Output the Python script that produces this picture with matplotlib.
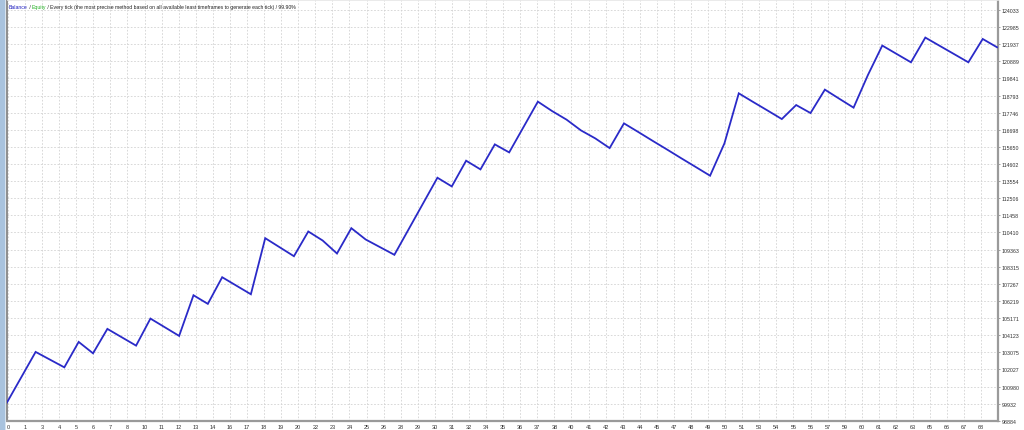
import matplotlib
matplotlib.use("Agg")
import matplotlib.pyplot as plt
from matplotlib.patches import Rectangle
import numpy as np

# ---- data ----
trades = list(range(70))
balance = [100000, 101550, 103100, 102628, 102156, 103713, 103014, 104510, 103998, 103486,
           105141, 104611, 104081, 106569, 106042, 107672, 107151, 106630, 110062, 109510,
           108959, 110472, 109921, 109124, 110675, 109982, 109513, 109044, 110617, 112190,
           113763, 113230, 114805, 114272, 115804, 115313, 116866, 118420, 117838, 117317,
           116661, 116171, 115577, 117090, 116560, 116020, 115490, 114950, 114420, 113886,
           115865, 118929, 118400, 117880, 117354, 118212, 117722, 119155, 118600, 118052,
           120050, 121852, 121340, 120828, 122342, 121837, 121333, 120828, 122256, 121748]

y_ticks = [98884, 99932, 100980, 102027, 103075, 104123, 105171, 106219, 107267, 108315,
           109363, 110410, 111458, 112506, 113554, 114602, 115650, 116698, 117746, 118793,
           119841, 120889, 121937, 122985, 124033]

x_labels = ["0", "1", "3", "4", "5", "6", "7", "8", "10", "11", "12", "13", "14", "16", "17",
            "18", "19", "20", "22", "23", "24", "25", "26", "28", "29", "30", "31", "32", "34",
            "35", "36", "37", "38", "40", "41", "42", "43", "44", "45", "47", "48", "49", "50",
            "51", "53", "54", "55", "56", "57", "59", "60", "61", "62", "63", "65", "66", "67", "68"]

title_parts = [("Balance", "#2020c0"), (" / ", "#202020"), ("Equity", "#20b020"),
               (" / Every tick (the most precise method based on all available least timeframes to generate each tick) / 99.90%", "#202020")]

FONT = "Liberation Sans"

# ---- figure ----
W, H = 1024, 431
fig = plt.figure(figsize=(W / 100, H / 100), dpi=100)
fig.patch.set_facecolor("white")

left_px, right_px, top_px, bottom_px = 6.5, 997.5, 0.5, 421.8
ax = fig.add_axes([left_px / W, (H - bottom_px) / H, (right_px - left_px) / W, (bottom_px - top_px) / H])
ax.set_facecolor("white")

ax.plot(trades, balance, color="#2a2ac8", linewidth=1.3, solid_joinstyle="miter", zorder=3)

ax.set_xlim(-0.03, 69.03)
ax.set_ylim(98884, 124672)

xt = np.linspace(0.07, 67.9, len(x_labels))
ax.set_xticks(xt)
ax.set_xticklabels(x_labels, fontfamily=FONT)
ax.set_yticks(y_ticks)
ax.set_yticklabels([str(v) for v in y_ticks], fontfamily=FONT)
ax.yaxis.tick_right()

ax.tick_params(axis="x", length=0, pad=2.2, labelsize=4.0, labelcolor="#303030")
ax.tick_params(axis="y", length=1.5, width=0.6, color="#909090", pad=1.2,
               labelsize=3.8, labelcolor="#303030")

ax.grid(True, color="#d2d2d2", linestyle=(0, (2, 2)), linewidth=0.6, zorder=0)

ax.spines["left"].set_color("#7a7a7a")
ax.spines["left"].set_linewidth(1.2)
ax.spines["bottom"].set_color("#9a9a9a")
ax.spines["bottom"].set_linewidth(1.6)
ax.spines["right"].set_color("#9a9a9a")
ax.spines["right"].set_linewidth(1.6)
ax.spines["top"].set_color("#e6e6e6")
ax.spines["top"].set_linewidth(0.6)

# window frame strip on the left
fig.patches.append(Rectangle((0, 0), 4.5 / W, 1, transform=fig.transFigure,
                             facecolor="#a9c3de", edgecolor="none", zorder=0))
fig.patches.append(Rectangle((4.5 / W, 0), 1.5 / W, 1, transform=fig.transFigure,
                             facecolor="#d8e4f0", edgecolor="none", zorder=0))

# title line with coloured parts (all bottom-aligned so baselines match)
prev = ax.text(2.5 / (right_px - left_px), 1 - 9.5 / (bottom_px - top_px), title_parts[0][0],
               transform=ax.transAxes, fontsize=3.7, fontfamily=FONT,
               color=title_parts[0][1], va="bottom", ha="left")
for txt, col in title_parts[1:]:
    prev = ax.annotate(txt, xy=(1, 0), xycoords=prev, fontsize=3.7, fontfamily=FONT,
                       color=col, va="bottom", ha="left")

fig.savefig("out.png", dpi=100, facecolor="white")
